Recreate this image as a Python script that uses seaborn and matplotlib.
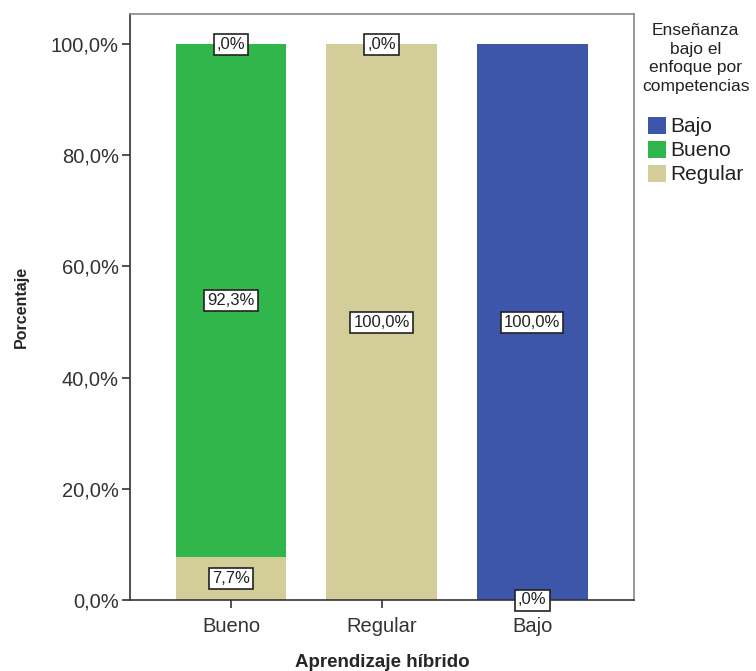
import matplotlib
matplotlib.use('Agg')
import matplotlib.pyplot as plt
import numpy as np
import pandas as pd
import seaborn as sns

# Data (percent within each category of "Aprendizaje híbrido")
categories = ['Bueno', 'Regular', 'Bajo']
levels = ['Bajo', 'Bueno', 'Regular']
pct_bajo = [0.0, 0.0, 100.0]
pct_bueno = [92.3, np.nan, np.nan]
pct_regular = [7.7, 100.0, 0.0]
colors = {'Bajo': '#3d56a9', 'Bueno': '#31b64b', 'Regular': '#d3ce99'}

rows = []
for lvl, vals in zip(levels, [pct_bajo, pct_bueno, pct_regular]):
    for cat, v in zip(categories, vals):
        rows.append({'cat': cat, 'nivel': lvl, 'pct': v})
df = pd.DataFrame(rows)
df['w'] = df['pct'].fillna(0)

sns.set_style('white')
plt.rcParams['font.family'] = ['Liberation Sans', 'DejaVu Sans']

fig = plt.figure(figsize=(7.56, 6.71), dpi=100)
ax = fig.add_axes([130 / 756, 1 - 600 / 671, 504 / 756, 586 / 671])

sns.histplot(data=df, x='cat', weights='w', hue='nivel', hue_order=levels,
             multiple='stack', discrete=True, shrink=0.735, palette=colors,
             alpha=1, linewidth=0, ax=ax)

# Segment labels (stacking order: Regular bottom, Bueno, Bajo top)
def fmt(v):
    s = f'{v:.1f}'.replace('.', ',')
    if s.startswith('0,'):
        s = s[1:]
    return s + '%'

stack = ['Regular', 'Bueno', 'Bajo']
series = {'Bajo': pct_bajo, 'Bueno': pct_bueno, 'Regular': pct_regular}
for i, cat in enumerate(categories):
    base = 0.0
    for lvl in stack:
        v = series[lvl][i]
        if np.isnan(v):
            continue
        ax.text(i, base + v / 2, fmt(v), ha='center', va='center', fontsize=12,
                color='#222222',
                bbox=dict(boxstyle='square,pad=0.18', fc='white', ec='#222222', lw=1.2))
        base += v

ax.set_xlim(-0.67, 2.675)
ax.set_ylim(0, 105.4)
ax.set_yticks([0, 20, 40, 60, 80, 100])
ax.set_yticklabels(['0,0%', '20,0%', '40,0%', '60,0%', '80,0%', '100,0%'])
ax.set_xticks(range(len(categories)))
ax.set_xticklabels(categories)
ax.tick_params(axis='both', direction='out', length=6, width=1.2, color='#333333',
               labelsize=14.5, labelcolor='#333333', left=True, bottom=True, pad=2)
ax.tick_params(axis='x', pad=6)

ax.set_xlabel('Aprendizaje híbrido', fontsize=13.5, fontweight='bold', labelpad=13)
ax.set_ylabel('Porcentaje', fontsize=11.5, fontweight='bold', labelpad=16)

for side in ['top', 'right']:
    ax.spines[side].set_color('#888888')
    ax.spines[side].set_linewidth(1.2)
for side in ['left', 'bottom']:
    ax.spines[side].set_color('#333333')
    ax.spines[side].set_linewidth(1.2)

sns.move_legend(ax, 'upper left', bbox_to_anchor=(642 / 756, 1 - 23 / 671),
                bbox_transform=fig.transFigure, frameon=False,
                title='Enseñanza\nbajo el\nenfoque por\ncompetencias\n',
                fontsize=15, title_fontsize=12.5, alignment='center',
                handlelength=0.9, handleheight=0.9, handletextpad=0.2,
                labelspacing=0.2, borderpad=0, borderaxespad=0)
leg = ax.get_legend()
leg.get_title().set_multialignment('center')
leg.get_title().set_linespacing(1.3)
leg.get_title().set_color('#222222')
for t in leg.get_texts():
    t.set_color('#222222')

fig.savefig('out.png', dpi=100)
